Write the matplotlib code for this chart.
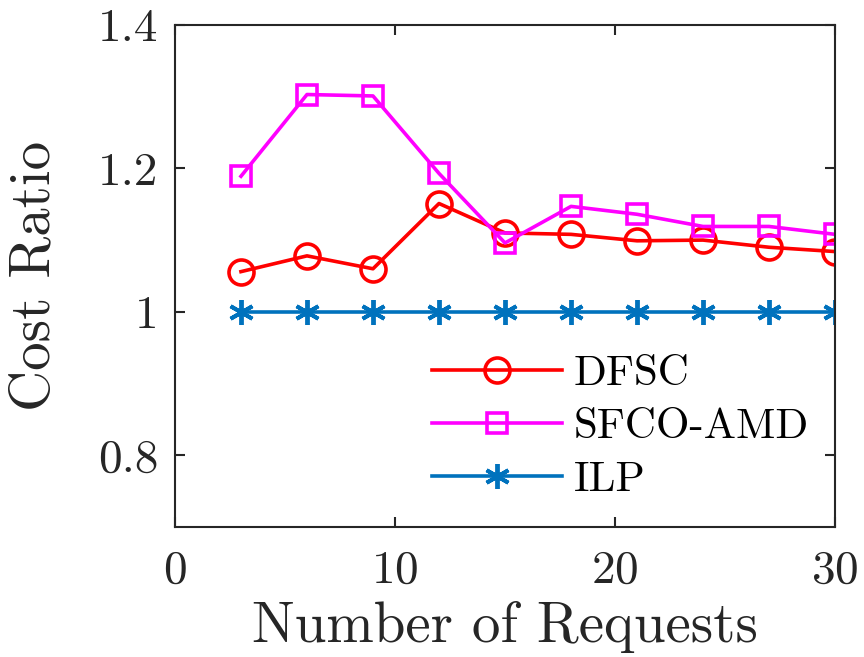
import matplotlib
matplotlib.use("Agg")
import matplotlib.pyplot as plt

plt.rcParams['font.family'] = 'serif'
plt.rcParams['font.serif'] = ['cmr10']
plt.rcParams['mathtext.fontset'] = 'cm'
plt.rcParams['axes.formatter.use_mathtext'] = True

requests = [3, 6, 9, 12, 15, 18, 21, 24, 27, 30]
dfsc = [1.056, 1.078, 1.060, 1.151, 1.110, 1.108, 1.099, 1.100, 1.090, 1.084]
sfco_amd = [1.189, 1.303, 1.301, 1.193, 1.096, 1.147, 1.136, 1.119, 1.119, 1.108]
ilp = [1.0] * 10

fig = plt.figure(figsize=(8.64, 6.57), dpi=100)
ax = fig.add_axes([0.2025, 0.198, 0.764, 0.764])

ax.plot(requests, dfsc, color='red', lw=2.6, marker='o', ms=18,
        mfc='none', mew=2.6, label='DFSC')
ax.plot(requests, sfco_amd, color='magenta', lw=2.6, marker='s', ms=15,
        mfc='none', mew=2.6, label='SFCO-AMD')
ax.plot(requests, ilp, color=(0, 0.447, 0.741), lw=2.6, marker=(6, 2, 0), ms=18,
        mew=2.8, label='ILP')

ax.set_xlim(0, 30)
ax.set_ylim(0.7, 1.4)
ax.set_xticks([0, 10, 20, 30])
ax.set_yticks([0.8, 1.0, 1.2, 1.4])
ax.set_yticklabels(['0.8', '1', '1.2', '1.4'])

ax.tick_params(direction='in', length=7, width=1.5, labelsize=34,
               top=True, right=True, colors='#262626', labelcolor='#262626')
ax.tick_params(axis='x', pad=17)
ax.tick_params(axis='y', pad=12)
for s in ax.spines.values():
    s.set_linewidth(1.5)
    s.set_color('#262626')

ax.set_xlabel('Number of Requests', fontsize=41, color='#262626', va='center')
ax.set_ylabel('Cost Ratio', fontsize=41, color='#262626', va='center')
ax.xaxis.set_label_coords(0.5, -0.2)
ax.yaxis.set_label_coords(-0.212, 0.5)

ax.legend(loc='upper left', bbox_to_anchor=(0.39, 0.342), frameon=False,
          fontsize=31, handlelength=3.0, handletextpad=0.28, labelspacing=0.34,
          borderaxespad=0, borderpad=0)

fig.savefig('out.png', dpi=100)
